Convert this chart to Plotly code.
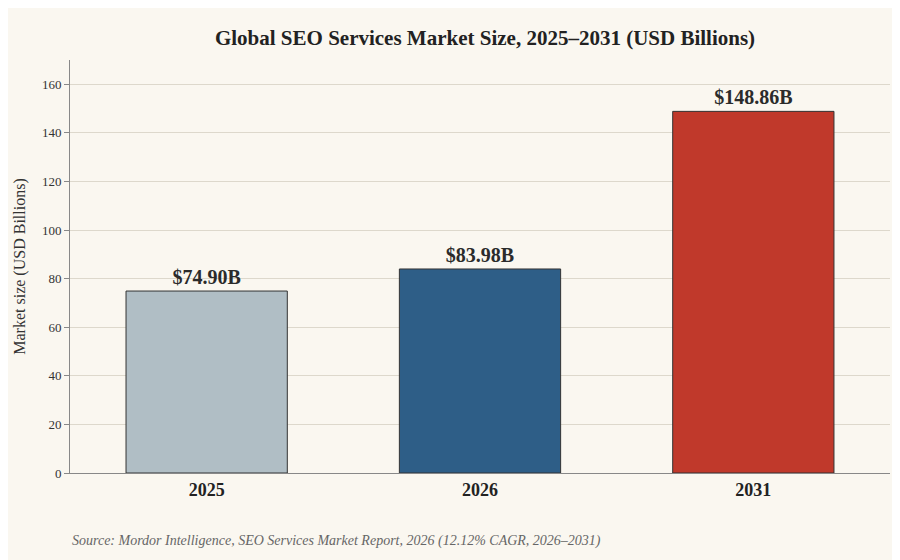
import plotly.graph_objects as go

years = ["2025", "2026", "2031"]
values = [74.90, 83.98, 148.86]
labels = ["<b>$74.90B</b>", "<b>$83.98B</b>", "<b>$148.86B</b>"]
colors = ["#B0BEC5", "#2E5E87", "#C0392B"]

fig = go.Figure(go.Bar(
    x=years, y=values, text=labels, textposition="outside",
    textfont=dict(size=20, color="#2b2b2b", family="Liberation Serif"),
    marker=dict(color=colors, line=dict(color="#333333", width=1)),
    width=0.59, cliponaxis=False,
))
fig.update_layout(
    width=900, height=560,
    paper_bgcolor="#FAF7F0", plot_bgcolor="#FAF7F0",
    font=dict(family="Liberation Serif", color="#333333"),
    title=dict(text="<b>Global SEO Services Market Size, 2025–2031 (USD Billions)</b>",
               x=0.53, xanchor="center", y=0.96, font=dict(size=21, color="#222222")),
    margin=dict(l=62, r=18, t=52, b=95),
    showlegend=False,
    xaxis=dict(tickfont=dict(size=18, color="#222222"), showline=True, automargin=False,
               linecolor="#888888", ticks="", tickprefix="<b>", ticksuffix="</b>"),
    yaxis=dict(range=[0, 170], dtick=20, gridcolor="#DDD8CC", showline=True, automargin=False,
               linecolor="#888888", ticks="outside", ticklen=5, tickcolor="#888888",
               tickfont=dict(size=13, color="#333333"), zeroline=False,
               title=dict(text="Market size (USD Billions)", font=dict(size=16), standoff=12)),
    annotations=[dict(text="<i>Source: Mordor Intelligence, SEO Services Market Report, 2026 (12.12% CAGR, 2026–2031)</i>",
                      xref="paper", yref="paper", x=0, y=-0.165, xanchor="left", yanchor="middle",
                      showarrow=False, font=dict(size=14, color="#666666"))],
)
fig.write_html("out.html")
